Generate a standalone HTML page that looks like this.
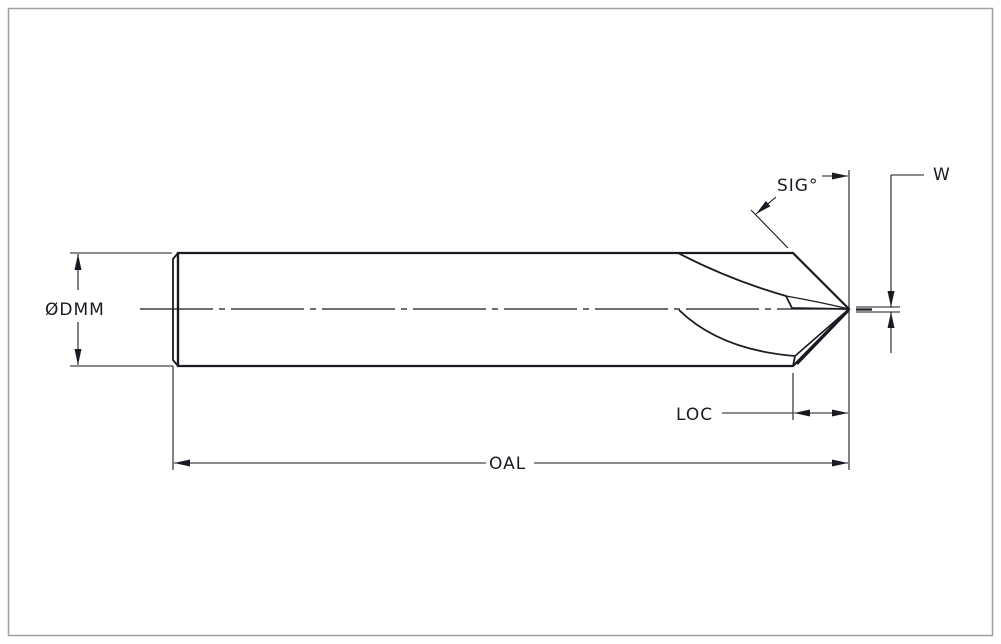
<!DOCTYPE html>
<html><head><style>
body{margin:0;background:#fff;}
svg{display:block;}
text{font-family:"DejaVu Sans","Liberation Sans",sans-serif;font-size:17px;fill:#1a1a22;letter-spacing:1px;}
</style></head><body>
<svg width="1001" height="644" viewBox="0 0 1001 644" xmlns="http://www.w3.org/2000/svg">
<rect x="8.5" y="8.5" width="984" height="627" fill="#fff" stroke="#a0a0a0" stroke-width="1.5"/>
<defs>
<marker id="a" viewBox="0 0 16 7" refX="16" refY="3.5" markerWidth="16" markerHeight="7" orient="auto" markerUnits="userSpaceOnUse"><path d="M0,0 L16,3.5 L0,7 Z" fill="#1a1a22"/></marker>
</defs>
<g stroke="#1a1a22" fill="none">
<path d="M178,253 L793,253 L849,309 L793,366 L178,366 Z" stroke-width="2.2"/>
<path d="M178,253 L173,259 L173,360 L178,366" stroke-width="1.8"/>
<line x1="178" y1="253" x2="178" y2="366" stroke-width="2.2"/>
<path d="M678,253 Q730,280 786,296 L792,308 L849,309" stroke-width="1.8"/>
<path d="M786,296 Q820,302 849,309" stroke-width="1.3"/>
<path d="M679,310 Q720,350 795,356 L793,366" stroke-width="1.8"/>
<path d="M795,356 L849,309" stroke-width="1.6"/>
<path d="M797,364 L849,310" stroke-width="2.4"/>
<line x1="140" y1="309" x2="849" y2="309" stroke-width="1.2" stroke-dasharray="73 6 6 6"/>
<line x1="70" y1="253" x2="172" y2="253" stroke-width="1.1"/>
<line x1="70" y1="366" x2="173" y2="366" stroke-width="1.1"/>
<line x1="78" y1="290" x2="78" y2="254" stroke-width="1.1" marker-end="url(#a)"/>
<line x1="78" y1="322" x2="78" y2="365" stroke-width="1.1" marker-end="url(#a)"/>
<line x1="173" y1="366" x2="173" y2="470" stroke-width="1.1"/>
<line x1="849" y1="170" x2="849" y2="470" stroke-width="1.1"/>
<line x1="486" y1="463" x2="174" y2="463" stroke-width="1.1" marker-end="url(#a)"/>
<line x1="534" y1="463" x2="848" y2="463" stroke-width="1.1" marker-end="url(#a)"/>
<line x1="793" y1="373" x2="793" y2="420" stroke-width="1.1"/>
<line x1="722" y1="413" x2="793" y2="413" stroke-width="1.1"/>
<line x1="820" y1="413" x2="794" y2="413" stroke-width="1.1" marker-end="url(#a)"/>
<line x1="820" y1="413" x2="848" y2="413" stroke-width="1.1" marker-end="url(#a)"/>
<line x1="822" y1="176" x2="848" y2="176" stroke-width="1.1" marker-end="url(#a)"/>
<line x1="788" y1="248" x2="751" y2="210" stroke-width="1.1"/>
<line x1="776" y1="197" x2="756" y2="214" stroke-width="1.1" marker-end="url(#a)"/>
<line x1="891" y1="175" x2="924" y2="175" stroke-width="1.1"/>
<line x1="891" y1="175" x2="891" y2="307" stroke-width="1.1" marker-end="url(#a)"/>
<line x1="891" y1="353" x2="891" y2="312" stroke-width="1.1" marker-end="url(#a)"/>
<line x1="856" y1="307" x2="900" y2="307" stroke-width="1.1"/>
<line x1="856" y1="312" x2="900" y2="312" stroke-width="1.1"/>
<line x1="856" y1="309.5" x2="872" y2="309.5" stroke-width="2.2"/>
</g>
<text x="45" y="315">ØDMM</text>
<text x="489" y="469">OAL</text>
<text x="676" y="420">LOC</text>
<text x="777" y="191">SIG°</text>
<text x="933" y="180">W</text>
</svg>
</body></html>
